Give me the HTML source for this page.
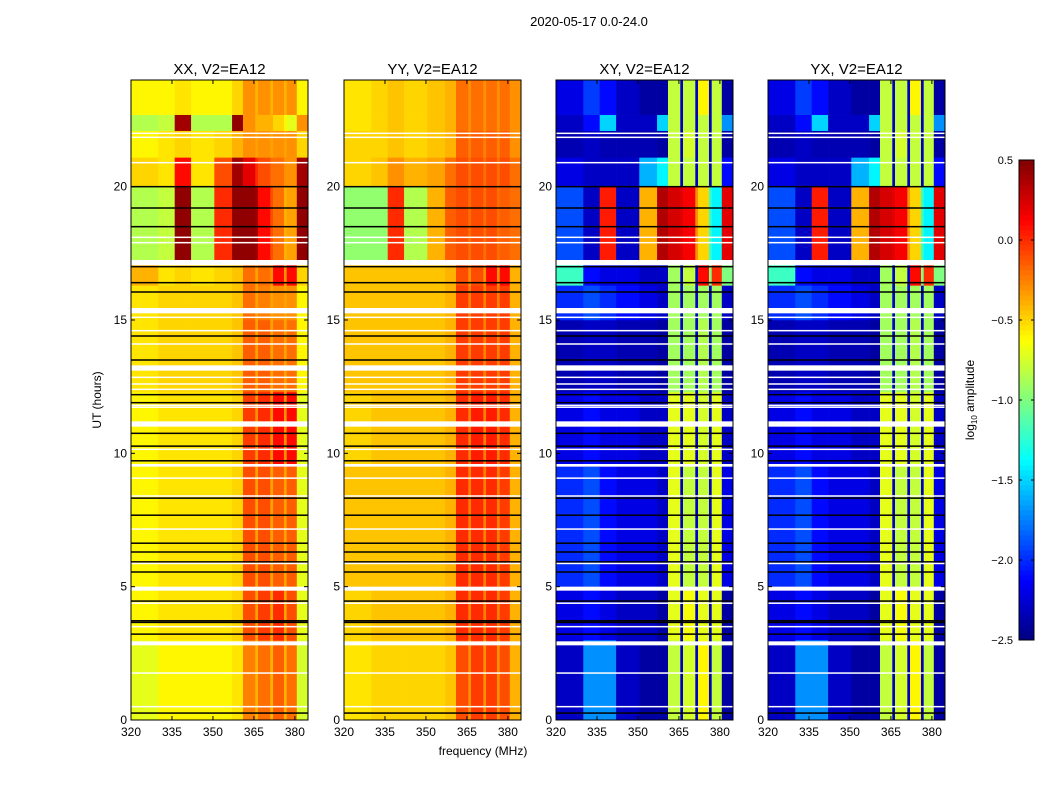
<!DOCTYPE html>
<html><head><meta charset="utf-8">
<style>
html,body{margin:0;padding:0;background:#fff;}
svg{display:block;font-family:"Liberation Sans","DejaVu Sans",sans-serif;}
</style></head>
<body>
<svg id="fig" width="1050" height="800" viewBox="0 0 1050 800" xmlns="http://www.w3.org/2000/svg">
<rect x="0" y="0" width="1050" height="800" fill="#fff"/>
<text x="589" y="26" font-size="13" text-anchor="middle">2020-05-17 0.0-24.0</text>
<text x="483" y="755" font-size="12" text-anchor="middle">frequency (MHz)</text>
<text transform="translate(101,400) rotate(-90)" font-size="12" text-anchor="middle">UT (hours)</text>
<text transform="translate(974,400) rotate(-90)" font-size="12" text-anchor="middle">log<tspan font-size="8" dy="3">10</tspan><tspan dy="-3"> amplitude</tspan></text>
<g id="panels"></g>
<g id="cbar"></g>
</svg>
<script>
// ---- data ----
const freqEdges = [320,330,336,342,350.5,357,361,365.5,366.5,371,372,376,377,380.7,385];
const timeEdges = [0,3,5,9.5,12.3,15,16.3,17.2,20,21.1,22.1,22.7,24];
const panelTitles = ["XX, V2=EA12","YY, V2=EA12","XY, V2=EA12","YX, V2=EA12"];
const xTicks = [320,335,350,365,380];
const yTicks = [0,5,10,15,20];
const cbTicks = [0.5,0.0,-0.5,-1.0,-1.5,-2.0,-2.5];
const cbLabels = ["0.5","0.0","\u22120.5","\u22121.0","\u22121.5","\u22122.0","\u22122.5"];
const valsXX = [
 [-0.7,-0.6,-0.6,-0.6,-0.6,-0.55,-0.25,-0.4,-0.2,-0.4,-0.15,-0.4,-0.2,-0.75],
 [-0.6,-0.55,-0.55,-0.55,-0.55,-0.5,-0.1,-0.35,-0.05,-0.35,0.0,-0.35,-0.1,-0.7],
 [-0.6,-0.55,-0.55,-0.55,-0.55,-0.5,-0.1,-0.35,-0.1,-0.35,-0.15,-0.35,-0.15,-0.7],
 [-0.6,-0.55,-0.55,-0.55,-0.55,-0.5,-0.05,-0.3,0.0,-0.3,0.1,-0.3,0.1,-0.7],
 [-0.55,-0.5,-0.5,-0.5,-0.5,-0.45,-0.15,-0.35,-0.15,-0.35,-0.2,-0.35,-0.2,-0.6],
 [-0.55,-0.5,-0.5,-0.5,-0.5,-0.45,-0.2,-0.35,-0.25,-0.35,-0.3,-0.35,-0.3,-0.6],
 [-0.4,-0.55,-0.5,-0.55,-0.5,-0.45,-0.2,-0.35,-0.2,-0.3,0.1,-0.3,0.1,-0.5],
 [-0.85,-0.8,0.45,-0.85,0.0,0.45,0.45,0.4,0.1,-0.1,-0.2,-0.4,-0.35,0.45],
 [-0.5,-0.55,0.1,-0.55,-0.1,0.4,0.2,0.0,-0.1,-0.2,-0.2,-0.3,-0.3,0.4],
 [-0.6,-0.55,-0.5,-0.55,-0.5,-0.4,-0.3,-0.35,-0.3,-0.35,-0.3,-0.35,-0.3,-0.5],
 [-0.85,-0.8,0.4,-0.85,-0.85,0.45,-0.3,-0.4,-0.4,-0.4,-0.5,-0.6,-0.7,-0.3],
 [-0.6,-0.6,-0.55,-0.6,-0.6,-0.5,-0.3,-0.4,-0.3,-0.4,-0.3,-0.4,-0.3,-0.6]
];
const valsYY = [
 [-0.55,-0.5,-0.5,-0.5,-0.5,-0.45,-0.1,-0.3,-0.05,-0.3,-0.05,-0.3,-0.1,-0.4],
 [-0.5,-0.45,-0.45,-0.45,-0.45,-0.4,0.0,-0.25,0.0,-0.25,0.0,-0.25,-0.05,-0.4],
 [-0.45,-0.45,-0.45,-0.45,-0.45,-0.4,0.0,-0.25,0.0,-0.25,0.0,-0.25,-0.05,-0.4],
 [-0.5,-0.45,-0.45,-0.45,-0.45,-0.4,0.0,-0.25,0.05,-0.25,0.05,-0.25,0.0,-0.4],
 [-0.45,-0.45,-0.45,-0.45,-0.45,-0.4,-0.05,-0.25,-0.05,-0.25,-0.05,-0.25,-0.05,-0.4],
 [-0.45,-0.45,-0.45,-0.45,-0.45,-0.4,-0.05,-0.25,-0.05,-0.25,-0.05,-0.25,-0.05,-0.4],
 [-0.45,-0.45,-0.45,-0.45,-0.45,-0.4,-0.1,-0.3,-0.1,-0.3,0.1,-0.3,0.1,-0.4],
 [-0.95,-0.95,0.0,-0.85,-0.4,-0.15,-0.1,-0.2,-0.1,-0.2,-0.1,-0.2,-0.15,-0.2],
 [-0.5,-0.45,-0.3,-0.4,-0.35,-0.2,-0.1,-0.2,-0.1,-0.2,-0.1,-0.2,-0.1,-0.2],
 [-0.5,-0.5,-0.45,-0.5,-0.45,-0.4,-0.15,-0.25,-0.15,-0.25,-0.15,-0.25,-0.15,-0.3],
 [-0.55,-0.5,-0.45,-0.5,-0.45,-0.4,-0.2,-0.3,-0.2,-0.3,-0.2,-0.3,-0.2,-0.3],
 [-0.55,-0.5,-0.45,-0.5,-0.45,-0.4,-0.2,-0.3,-0.2,-0.3,-0.2,-0.3,-0.2,-0.3]
];
const valsXY = [
 [-2.3,-1.7,-1.7,-2.3,-2.4,-2.4,-0.8,-2.3,-0.75,-2.3,-0.6,-2.3,-0.8,-2.4],
 [-2.2,-2.1,-2.2,-2.3,-2.3,-2.4,-0.7,-2.3,-0.65,-2.3,-0.7,-2.3,-0.7,-2.4],
 [-2.0,-1.9,-2.1,-2.2,-2.2,-2.3,-0.7,-2.3,-0.8,-2.3,-0.8,-2.3,-0.7,-2.2],
 [-2.2,-2.1,-2.2,-2.2,-2.3,-2.3,-0.7,-2.3,-0.7,-2.3,-0.75,-2.3,-0.7,-2.3],
 [-2.35,-2.3,-2.3,-2.35,-2.35,-2.4,-0.9,-2.3,-0.9,-2.3,-0.85,-2.3,-0.9,-2.4],
 [-2.0,-1.9,-2.0,-2.1,-2.2,-2.3,-0.9,-2.3,-0.9,-2.3,-0.9,-2.3,-0.9,-2.3],
 [-1.2,-2.1,-2.2,-2.2,-2.3,-2.3,-0.9,-2.3,-0.8,-2.3,0.1,-1.0,0.0,-1.0],
 [-1.9,-2.3,0.05,-2.3,-0.4,0.35,0.25,0.2,0.15,-0.3,-0.5,-1.2,-1.4,0.2],
 [-2.2,-2.3,-2.3,-2.3,-1.6,-1.4,-0.8,-2.3,-0.8,-2.3,-0.8,-2.3,-0.8,-2.1],
 [-2.35,-2.3,-2.35,-2.35,-2.35,-2.4,-0.8,-2.3,-0.75,-2.3,-0.8,-2.3,-0.8,-2.4],
 [-2.3,-2.1,-1.5,-2.3,-2.3,-1.5,-0.8,-2.3,-0.8,-2.3,-0.8,-2.3,-0.8,-1.7],
 [-2.2,-1.95,-2.1,-2.3,-2.4,-2.4,-0.8,-2.3,-0.8,-2.3,-0.6,-2.3,-0.8,-2.4]
];
const valsYX = valsXY;
const blackLines = [0.26,3.22,3.66,3.72,4.46,5.55,5.93,6.3,6.63,7.68,8.32,9.72,10.27,10.75,11.9,12.2,13.5,14.4,16.05,16.4,17.0,18.5,19.2,20.0];
const whiteLines = [0.5,1.76,3.5,4.38,5.87,7.16,8.4,9.07,10.15,11.73,11.8,12.4,12.6,12.85,14.1,14.6,15.1,17.9,18.1,20.9,21.85,22.0];
const flaggedTimes = [[2.8,2.95],[4.85,5.0],[9.5,9.6],[11.0,11.2],[13.1,13.3],[15.25,15.45],[17.05,17.25]];
// ---- layout ----
const panelX = [131,344,556,768], PW = 177, PT = 80, PH = 640;
const FMIN = 320, FMAX = 384.8, TMIN = 0, TMAX = 24, VMIN = -2.5, VMAX = 0.5;
const NS = "http://www.w3.org/2000/svg";
function jet(v){
  let t = Math.max(0, Math.min(1, (v - VMIN) / (VMAX - VMIN)));
  const c = x => Math.round(255 * Math.max(0, Math.min(1, 1.5 - Math.abs(4*t - x))));
  return `rgb(${c(3)},${c(2)},${c(1)})`;
}
function mk(tag, attrs, parent){
  const e = document.createElementNS(NS, tag);
  for (const k in attrs) e.setAttribute(k, attrs[k]);
  parent.appendChild(e); return e;
}
const panelsG = document.getElementById('panels');
const allVals = [valsXX, valsYY, valsXY, valsYX];
allVals.forEach((vals, p) => {
  const x0 = panelX[p];
  const xs = f => Math.min(x0 + PW, x0 + (f - FMIN) / (FMAX - FMIN) * PW);
  const ys = t => PT + PH - (t - TMIN) / (TMAX - TMIN) * PH;
  const g = mk('g', {}, panelsG);
  
  
  for (let r = 0; r < timeEdges.length - 1; r++) {
    for (let c = 0; c < freqEdges.length - 1; c++) {
      const xa = xs(freqEdges[c]), xb = xs(freqEdges[c+1]);
      const ya = ys(timeEdges[r+1]), yb = ys(timeEdges[r]);
      const cell = mk('rect', {x: xa, y: ya, width: Math.max(0, xb - xa + 0.3), height: yb - ya + 0.3, fill: jet(vals[r][c])}, g);
      
      
    }
  }
  blackLines.forEach(t => {
    const l = mk('rect', {x: x0, y: ys(t) - 0.75, width: PW, height: 1.5, fill: '#000'}, g);
    
    
  });
  whiteLines.forEach(t => {
    const l = mk('rect', {x: x0, y: ys(t) - 0.75, width: PW, height: 1.5, fill: '#fff'}, g);
    
    
  });
  flaggedTimes.forEach(([a, b]) => {
    const w = mk('rect', {x: x0, y: ys(b), width: PW, height: Math.max(1.5, ys(a) - ys(b)), fill: '#fff'}, g);
    
    
  });
  const frame = mk('rect', {x: x0, y: PT, width: PW, height: PH, fill: 'none', stroke: '#000', 'stroke-width': 1}, g);
  
  
  const title = mk('text', {x: x0 + PW/2, y: 74, 'font-size': 15, 'text-anchor': 'middle'}, g);
  title.textContent = panelTitles[p];
  
  
  xTicks.forEach(f => {
    const x = xs(f);
    mk('line', {x1: x, x2: x, y1: PT+PH, y2: PT+PH-4, stroke: '#000'}, g);
    mk('line', {x1: x, x2: x, y1: PT, y2: PT+4, stroke: '#000'}, g);
    const t = mk('text', {x: x, y: PT+PH+16, 'font-size': 12, 'text-anchor': 'middle'}, g);
    t.textContent = f;
    
    
  });
  yTicks.forEach(v => {
    const y = ys(v);
    mk('line', {x1: x0, x2: x0+4, y1: y, y2: y, stroke: '#000'}, g);
    mk('line', {x1: x0+PW, x2: x0+PW-4, y1: y, y2: y, stroke: '#000'}, g);
    const t = mk('text', {x: x0 - 4, y: y + 4, 'font-size': 12, 'text-anchor': 'end'}, g);
    t.textContent = v;
    
    
  });
});
// colorbar
const cb = document.getElementById('cbar');
const CBX = 1019, CBW = 15, CBT = 160, CBH = 480;
const cbY = v => CBT + (VMAX - v) / (VMAX - VMIN) * CBH;
for (let i = 0; i < 96; i++) {
  const v = VMIN + (i + 0.5) / 96 * (VMAX - VMIN);
  const r = mk('rect', {x: CBX, y: CBT + CBH - (i+1) * CBH/96, width: CBW, height: CBH/96 + 0.4, fill: jet(v)}, cb);
  
  
}
const cbf = mk('rect', {x: CBX, y: CBT, width: CBW, height: CBH, fill: 'none', stroke: '#000'}, cb);


cbTicks.forEach((v, i) => {
  const y = cbY(v);
  mk('line', {x1: CBX, x2: CBX+3, y1: y, y2: y, stroke: '#000'}, cb);
  mk('line', {x1: CBX+CBW-3, x2: CBX+CBW, y1: y, y2: y, stroke: '#000'}, cb);
  const t = mk('text', {x: CBX - 6, y: y + 4, 'font-size': 11, 'text-anchor': 'end'}, cb);
  t.textContent = cbLabels[i];
  
  
});
</script>
</body></html>
